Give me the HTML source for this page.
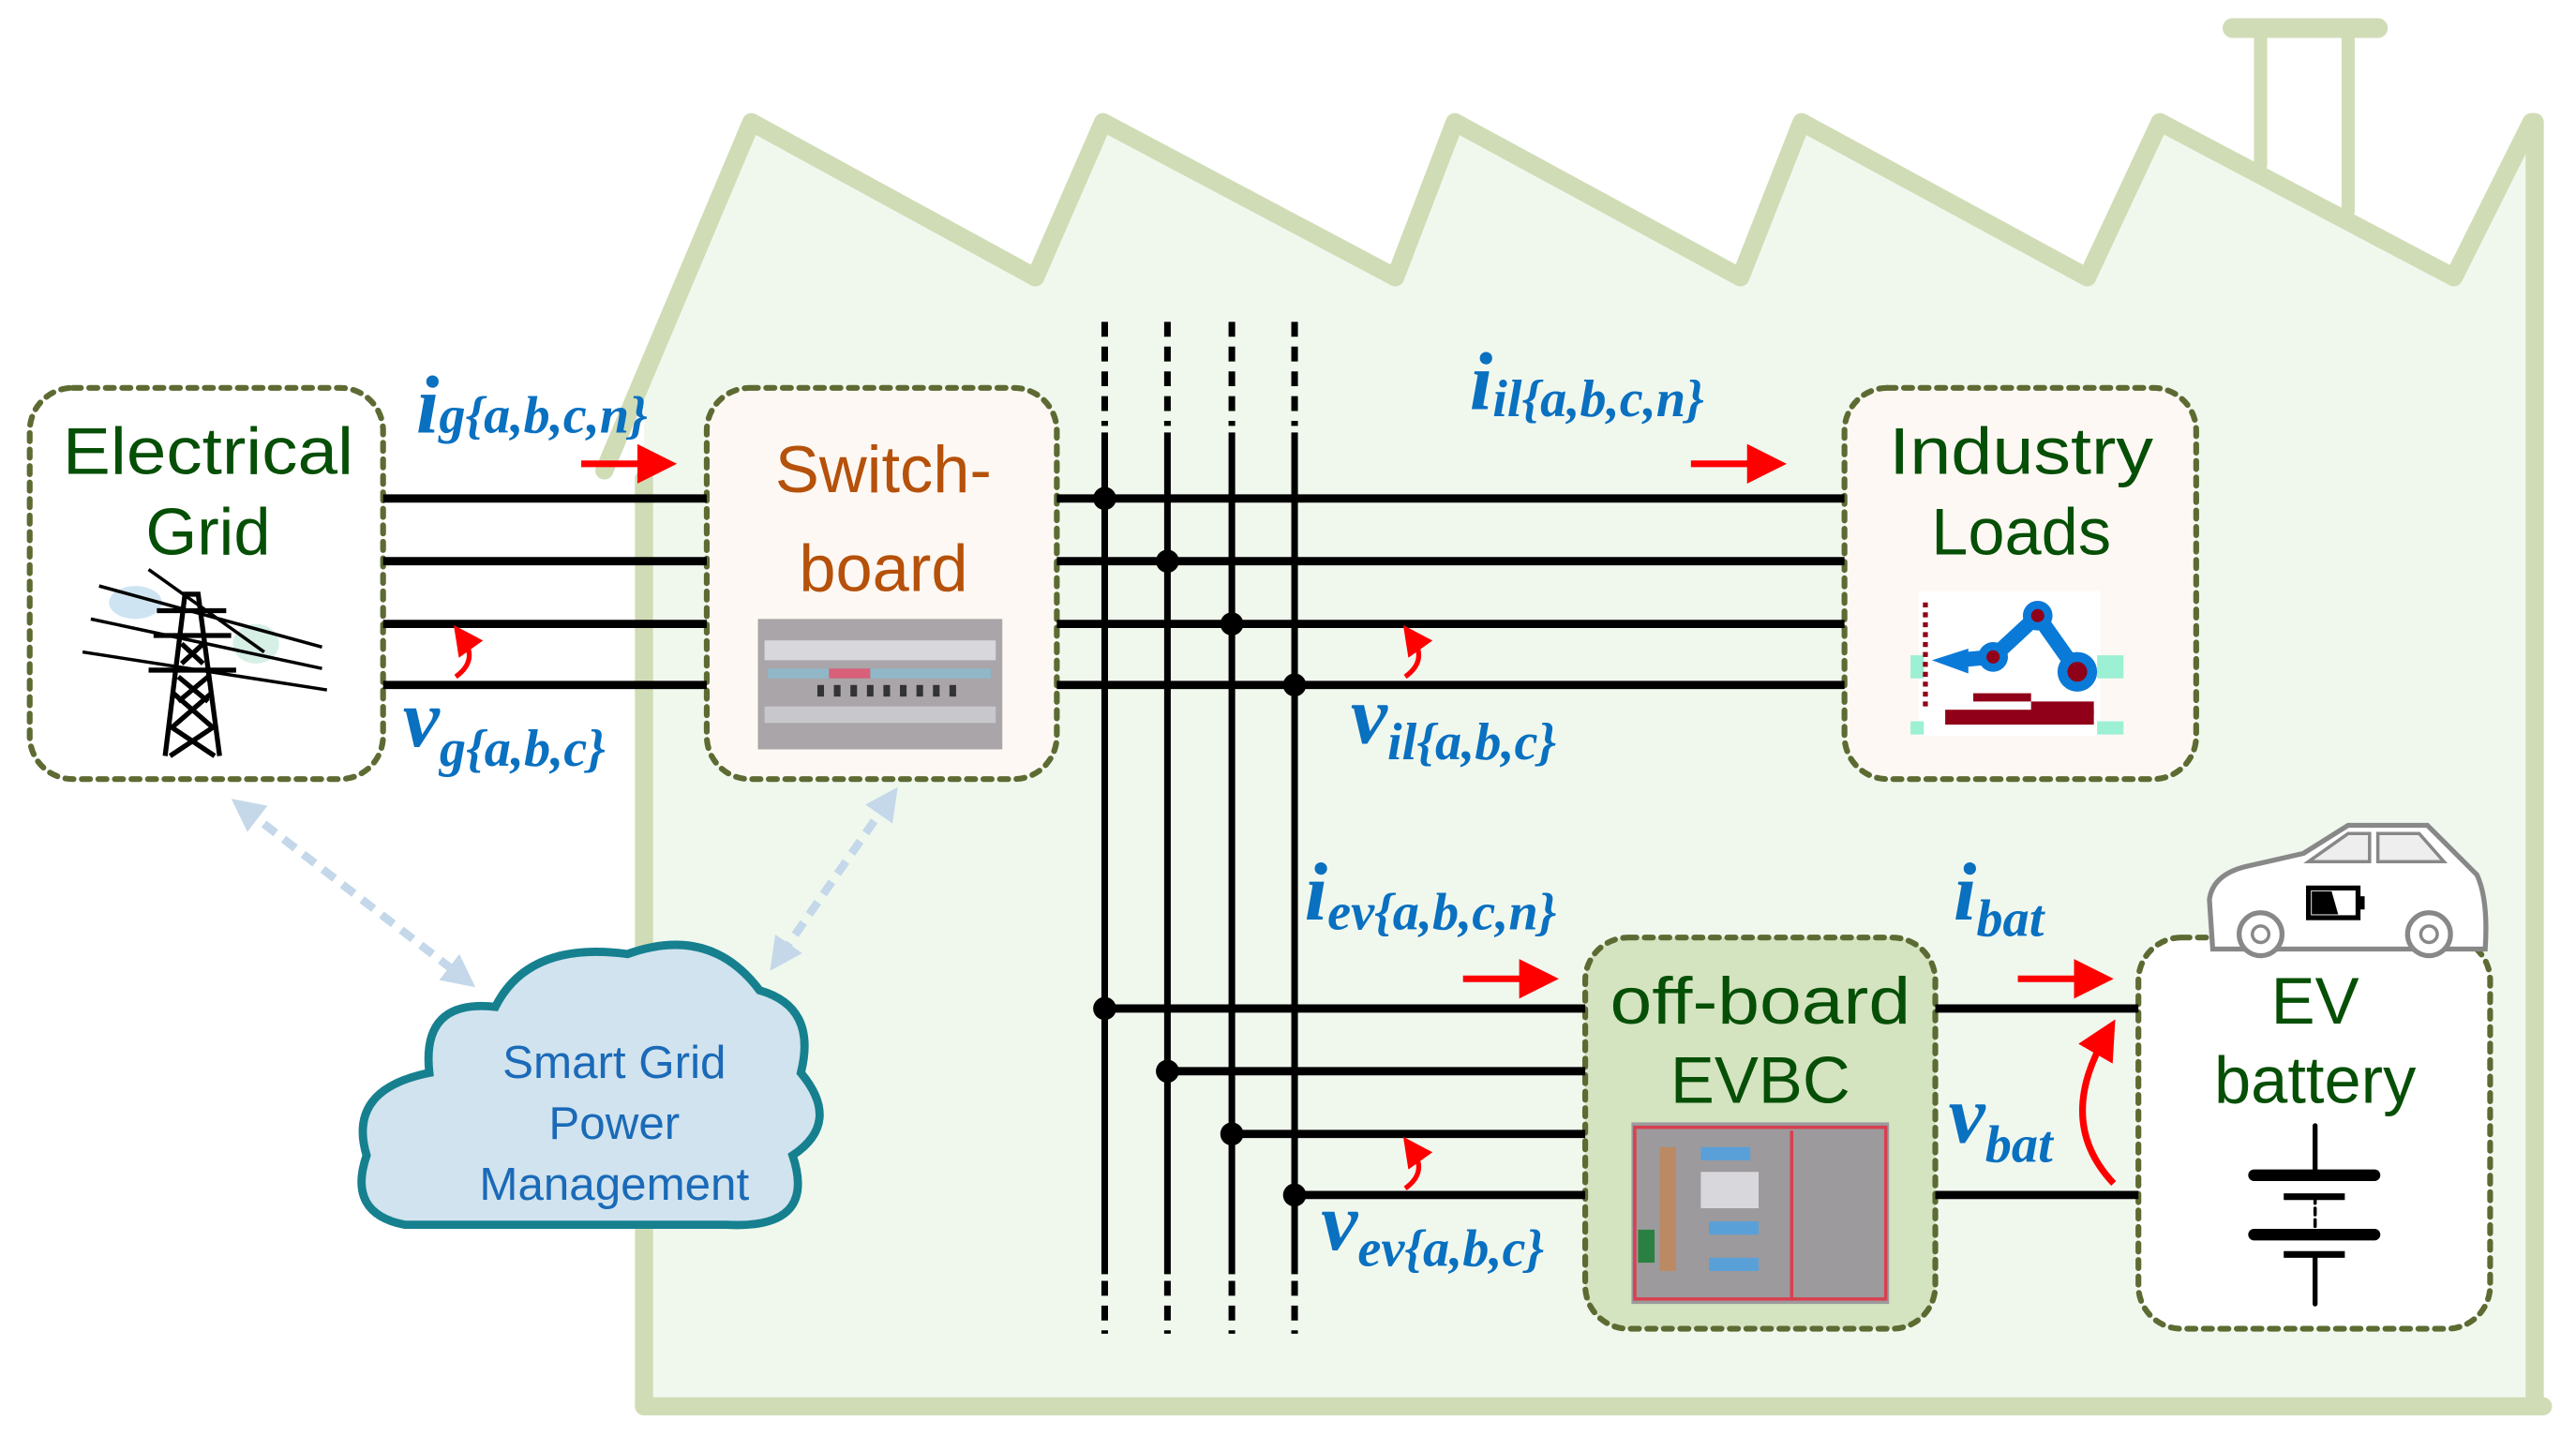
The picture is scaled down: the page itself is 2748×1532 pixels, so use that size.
<!DOCTYPE html>
<html><head><meta charset="utf-8"><style>
html,body{margin:0;padding:0;background:#fff;}
svg{display:block;}
.bt{font-family:"Liberation Sans",sans-serif;font-size:40px;text-anchor:middle;}
.lb{font-family:"Liberation Serif",serif;font-style:italic;font-weight:bold;fill:#0a70c0;}
</style></head><body>
<svg width="2748" height="1532" viewBox="0 0 1560 870" preserveAspectRatio="none" xmlns="http://www.w3.org/2000/svg">
<defs>
<marker id="ra" markerWidth="6" markerHeight="6" refX="3" refY="3" orient="auto" markerUnits="strokeWidth"><path d="M0,0 L6,3 L0,6 Z" fill="#ff0000"/></marker>
<marker id="da" markerWidth="4" markerHeight="4" refX="2" refY="2" orient="auto" markerUnits="strokeWidth"><path d="M0,0 L4,2 L0,4 Z" fill="#c4d8ea"/></marker>
<marker id="ds" markerWidth="4" markerHeight="4" refX="2" refY="2" orient="auto-start-reverse" markerUnits="strokeWidth"><path d="M0,0 L4,2 L0,4 Z" fill="#c4d8ea"/></marker>
</defs>
<!-- factory -->
<polygon points="390,852 390,226 455,74 627,168 668,74 845,168 881,74 1054,168 1091,74 1264,168 1308,74 1486,168 1533,74 1535,852" fill="#f0f8ee"/>
<g stroke="#d0dcb6" stroke-width="11" fill="none" stroke-linecap="round" stroke-linejoin="round">
<polyline points="366,285 455,74 627,168 668,74 845,168 881,74 1054,168 1091,74 1264,168 1308,74 1486,168 1533,74"/>
<line x1="390" y1="290" x2="390" y2="852"/>
<line x1="390" y1="852" x2="1540" y2="852"/>
<line x1="1535" y1="74" x2="1535" y2="852"/>
<line x1="1369" y1="18" x2="1369" y2="100" stroke-width="8"/>
<line x1="1422" y1="18" x2="1422" y2="128" stroke-width="8"/>
<line x1="1352" y1="17" x2="1440" y2="17" stroke-width="12"/>
</g>
<!-- boxes -->
<g stroke="#5d6b33" stroke-width="3.5" stroke-dasharray="5,5" stroke-linecap="round">
<rect x="18" y="235" width="214" height="237" rx="26" fill="#fff"/>
<rect x="428" y="235" width="212" height="237" rx="26" fill="#fdf8f3"/>
<rect x="1117" y="235" width="213" height="237" rx="26" fill="#fdf8f3"/>
<rect x="960" y="568" width="212" height="237" rx="26" fill="#d4e3c0"/>
<rect x="1295" y="568" width="213" height="237" rx="26" fill="#fff"/>
</g>
<!-- lines -->
<g stroke="#000" stroke-width="5">
<line x1="232" y1="302" x2="428" y2="302"/><line x1="232" y1="340" x2="428" y2="340"/>
<line x1="232" y1="378" x2="428" y2="378"/><line x1="232" y1="415" x2="428" y2="415"/>
<line x1="640" y1="302" x2="1117" y2="302"/><line x1="640" y1="340" x2="1117" y2="340"/>
<line x1="640" y1="378" x2="1117" y2="378"/><line x1="640" y1="415" x2="1117" y2="415"/>
<line x1="669" y1="611" x2="960" y2="611"/><line x1="707" y1="649" x2="960" y2="649"/>
<line x1="746" y1="687" x2="960" y2="687"/><line x1="784" y1="724" x2="960" y2="724"/>
<line x1="1172" y1="611" x2="1295" y2="611"/><line x1="1172" y1="724" x2="1295" y2="724"/>
</g>
<g stroke="#000" stroke-width="4">
<line x1="669" y1="262" x2="669" y2="772"/><line x1="707" y1="262" x2="707" y2="772"/>
<line x1="746" y1="262" x2="746" y2="772"/><line x1="784" y1="262" x2="784" y2="772"/>
</g>
<g stroke="#000" stroke-width="4" stroke-dasharray="9,6">
<line x1="669" y1="195" x2="669" y2="258"/><line x1="707" y1="195" x2="707" y2="258"/>
<line x1="746" y1="195" x2="746" y2="258"/><line x1="784" y1="195" x2="784" y2="258"/>
<line x1="669" y1="776" x2="669" y2="808"/><line x1="707" y1="776" x2="707" y2="808"/>
<line x1="746" y1="776" x2="746" y2="808"/><line x1="784" y1="776" x2="784" y2="808"/>
</g>
<g fill="#000">
<circle cx="669" cy="302" r="7"/><circle cx="707" cy="340" r="7"/><circle cx="746" cy="378" r="7"/><circle cx="784" cy="415" r="7"/>
<circle cx="669" cy="611" r="7"/><circle cx="707" cy="649" r="7"/><circle cx="746" cy="687" r="7"/><circle cx="784" cy="724" r="7"/>
</g>
<!-- box text -->
<g class="bt" fill="#064f06">
<text x="126" y="287" textLength="176" lengthAdjust="spacingAndGlyphs">Electrical</text>
<text x="126" y="336">Grid</text>
<text x="1224" y="287" textLength="160" lengthAdjust="spacingAndGlyphs">Industry</text>
<text x="1224" y="336">Loads</text>
<text x="1066" y="620" textLength="182" lengthAdjust="spacingAndGlyphs">off-board</text>
<text x="1066" y="668">EVBC</text>
<text x="1402" y="620">EV</text>
<text x="1402" y="668">battery</text>
</g>
<g class="bt" fill="#b5510a">
<text x="535" y="298">Switch-</text>
<text x="535" y="358">board</text>
</g>
<!-- tower -->
<g stroke="#000" stroke-width="3" fill="none">
<ellipse cx="82" cy="365" rx="16" ry="10" fill="#cfe4f2" stroke="none"/>
<ellipse cx="155" cy="390" rx="14" ry="12" fill="#d6f0e6" stroke="none"/>
<line x1="60" y1="355" x2="195" y2="392" stroke-width="2"/>
<line x1="55" y1="375" x2="195" y2="405" stroke-width="2"/>
<line x1="50" y1="395" x2="198" y2="418" stroke-width="2"/>
<line x1="90" y1="345" x2="160" y2="395" stroke-width="2"/>
<polyline points="100,458 112,360 120,360 133,458"/>
<line x1="93" y1="385" x2="140" y2="385"/><line x1="90" y1="406" x2="143" y2="406"/><line x1="95" y1="370" x2="137" y2="370"/>
<line x1="105" y1="420" x2="128" y2="440"/><line x1="128" y1="420" x2="105" y2="440"/>
<line x1="108" y1="410" x2="126" y2="425"/><line x1="126" y1="410" x2="108" y2="425"/>
<line x1="110" y1="390" x2="123" y2="402"/><line x1="123" y1="390" x2="110" y2="402"/>
<line x1="103" y1="440" x2="130" y2="458"/><line x1="130" y1="440" x2="103" y2="458"/>
</g>
<!-- switchboard image -->
<rect x="459" y="375" width="148" height="79" fill="#a9a5a8"/>
<rect x="463" y="388" width="140" height="12" fill="#d8d8dc"/>
<rect x="465" y="405" width="135" height="6" fill="#8fb7c8"/>
<rect x="502" y="405" width="25" height="6" fill="#d86078"/>
<g fill="#333"><rect x="495" y="415" width="4" height="7"/><rect x="505" y="415" width="4" height="7"/><rect x="515" y="415" width="4" height="7"/><rect x="525" y="415" width="4" height="7"/><rect x="535" y="415" width="4" height="7"/><rect x="545" y="415" width="4" height="7"/><rect x="555" y="415" width="4" height="7"/><rect x="565" y="415" width="4" height="7"/><rect x="575" y="415" width="4" height="7"/></g>
<rect x="463" y="428" width="140" height="10" fill="#c8c8cc"/>
<!-- robot -->
<rect x="1162" y="358" width="110" height="88" fill="#fff"/>
<rect x="1157" y="397" width="8" height="14" fill="#9cf0d4"/><rect x="1270" y="397" width="16" height="14" fill="#9cf0d4"/>
<rect x="1157" y="437" width="8" height="8" fill="#9cf0d4"/><rect x="1270" y="437" width="16" height="8" fill="#9cf0d4"/>
<line x1="1166" y1="365" x2="1166" y2="430" stroke="#900018" stroke-width="3" stroke-dasharray="3,3"/>
<g stroke="#0a7ad8" stroke-width="9" stroke-linecap="round" fill="none"><polyline points="1185,400 1207,398 1234,373 1258,407"/></g>
<circle cx="1207" cy="398" r="9" fill="#0a7ad8"/><circle cx="1207" cy="398" r="4" fill="#900018"/>
<circle cx="1234" cy="373" r="9" fill="#0a7ad8"/><circle cx="1234" cy="373" r="4" fill="#900018"/>
<circle cx="1258" cy="407" r="12" fill="#0a7ad8"/><circle cx="1258" cy="407" r="6" fill="#900018"/>
<polygon points="1170,400 1192,393 1192,408" fill="#0a7ad8"/>
<rect x="1178" y="430" width="90" height="9" fill="#900018"/><rect x="1195" y="420" width="35" height="5" fill="#900018"/><rect x="1230" y="425" width="38" height="8" fill="#900018"/>
<!-- EVBC image -->
<rect x="988" y="680" width="156" height="110" fill="#9c9a9c"/>
<rect x="990" y="683" width="152" height="104" fill="none" stroke="#d84050" stroke-width="2"/>
<line x1="1085" y1="685" x2="1085" y2="788" stroke="#d84050" stroke-width="2"/>
<g fill="#5aa0d8"><rect x="1030" y="695" width="30" height="8"/><rect x="1035" y="740" width="30" height="8"/><rect x="1035" y="762" width="30" height="8"/></g>
<rect x="1005" y="695" width="10" height="75" fill="#d08040" opacity="0.6"/>
<rect x="1030" y="710" width="35" height="22" fill="#d8d8dc"/>
<rect x="992" y="745" width="10" height="20" fill="#2a8040"/>
<!-- battery -->
<g stroke="#000" stroke-linecap="round">
<line x1="1402" y1="682" x2="1402" y2="712" stroke-width="3"/>
<line x1="1365" y1="712" x2="1438" y2="712" stroke-width="7"/>
<line x1="1383" y1="725" x2="1420" y2="725" stroke-width="4" stroke-linecap="butt"/>
<line x1="1402" y1="725" x2="1402" y2="748" stroke-width="2" stroke-dasharray="4,3"/>
<line x1="1365" y1="748" x2="1438" y2="748" stroke-width="7"/>
<line x1="1383" y1="760" x2="1420" y2="760" stroke-width="4" stroke-linecap="butt"/>
<line x1="1402" y1="760" x2="1402" y2="790" stroke-width="3"/>
</g>
<!-- car -->
<path d="M1340,575 L1338,545 Q1340,530 1360,525 L1395,517 L1422,500 L1470,500 L1500,530 Q1507,545 1505,575 Z" fill="#fff" stroke="#888" stroke-width="3"/>
<path d="M1398,522 L1422,505 L1435,505 L1435,522 Z M1440,505 L1465,505 L1480,522 L1440,522 Z" fill="#eee" stroke="#888" stroke-width="2"/>
<circle cx="1369" cy="566" r="13" fill="#fff" stroke="#888" stroke-width="3"/><circle cx="1369" cy="566" r="5" fill="none" stroke="#888" stroke-width="2"/>
<circle cx="1471" cy="566" r="13" fill="#fff" stroke="#888" stroke-width="3"/><circle cx="1471" cy="566" r="5" fill="none" stroke="#888" stroke-width="2"/>
<rect x="1398" y="538" width="30" height="18" fill="#fff" stroke="#000" stroke-width="3"/><rect x="1428" y="543" width="4" height="8" fill="#000"/><polygon points="1400,540 1412,540 1416,554 1400,554" fill="#000"/>
<!-- cloud -->
<path d="M245,742 Q210,735 222,700 Q210,660 260,650 Q255,605 300,610 Q320,570 380,578 Q430,560 460,600 Q495,610 485,650 Q510,680 480,700 Q495,745 440,742 Z" fill="#d1e3ee" stroke="#16808f" stroke-width="5"/>
<g font-family="Liberation Sans, sans-serif" font-size="28" fill="#1a6ab8" text-anchor="middle">
<text x="372" y="653">Smart Grid</text><text x="372" y="690">Power</text><text x="372" y="727">Management</text>
</g>
<!-- dashed comm arrows -->
<g stroke="#c4d8ea" stroke-width="5" stroke-dasharray="9,6" fill="none">
<line x1="148" y1="490" x2="280" y2="592" marker-start="url(#ds)" marker-end="url(#da)"/>
<line x1="538" y1="485" x2="472" y2="580" marker-start="url(#ds)" marker-end="url(#da)"/>
</g>
<!-- red arrows -->
<g stroke="#ff0000" stroke-width="4" fill="none">
<line x1="352" y1="281" x2="398" y2="281" marker-end="url(#ra)"/>
<line x1="1024" y1="281" x2="1070" y2="281" marker-end="url(#ra)"/>
<line x1="886" y1="593" x2="932" y2="593" marker-end="url(#ra)"/>
<line x1="1222" y1="593" x2="1268" y2="593" marker-end="url(#ra)"/>
<path d="M276,410 Q290,400 280,386" marker-end="url(#ra)" stroke-width="3"/>
<path d="M851,410 Q865,400 855,386" marker-end="url(#ra)" stroke-width="3"/>
<path d="M851,720 Q865,710 855,696" marker-end="url(#ra)" stroke-width="3"/>
<path d="M1280,717 Q1245,680 1275,628" marker-end="url(#ra)"/>
</g>
<!-- labels -->
<g class="lb">
<text x="252" y="262" font-size="50">i<tspan font-size="32" dy="0">g{a,b,c,n}</tspan></text>
<text x="244" y="452" font-size="50">v<tspan font-size="32" dy="12">g{a,b,c}</tspan></text>
<text x="890" y="248" font-size="50">i<tspan font-size="32" dy="4">il{a,b,c,n}</tspan></text>
<text x="818" y="450" font-size="50">v<tspan font-size="32" dy="10">il{a,b,c}</tspan></text>
<text x="790" y="557" font-size="50">i<tspan font-size="32" dy="6">ev{a,b,c,n}</tspan></text>
<text x="800" y="757" font-size="50">v<tspan font-size="32" dy="10">ev{a,b,c}</tspan></text>
<text x="1183" y="557" font-size="50">i<tspan font-size="32" dy="10">bat</tspan></text>
<text x="1180" y="692" font-size="50">v<tspan font-size="32" dy="12">bat</tspan></text>
</g>
</svg>
</body></html>
